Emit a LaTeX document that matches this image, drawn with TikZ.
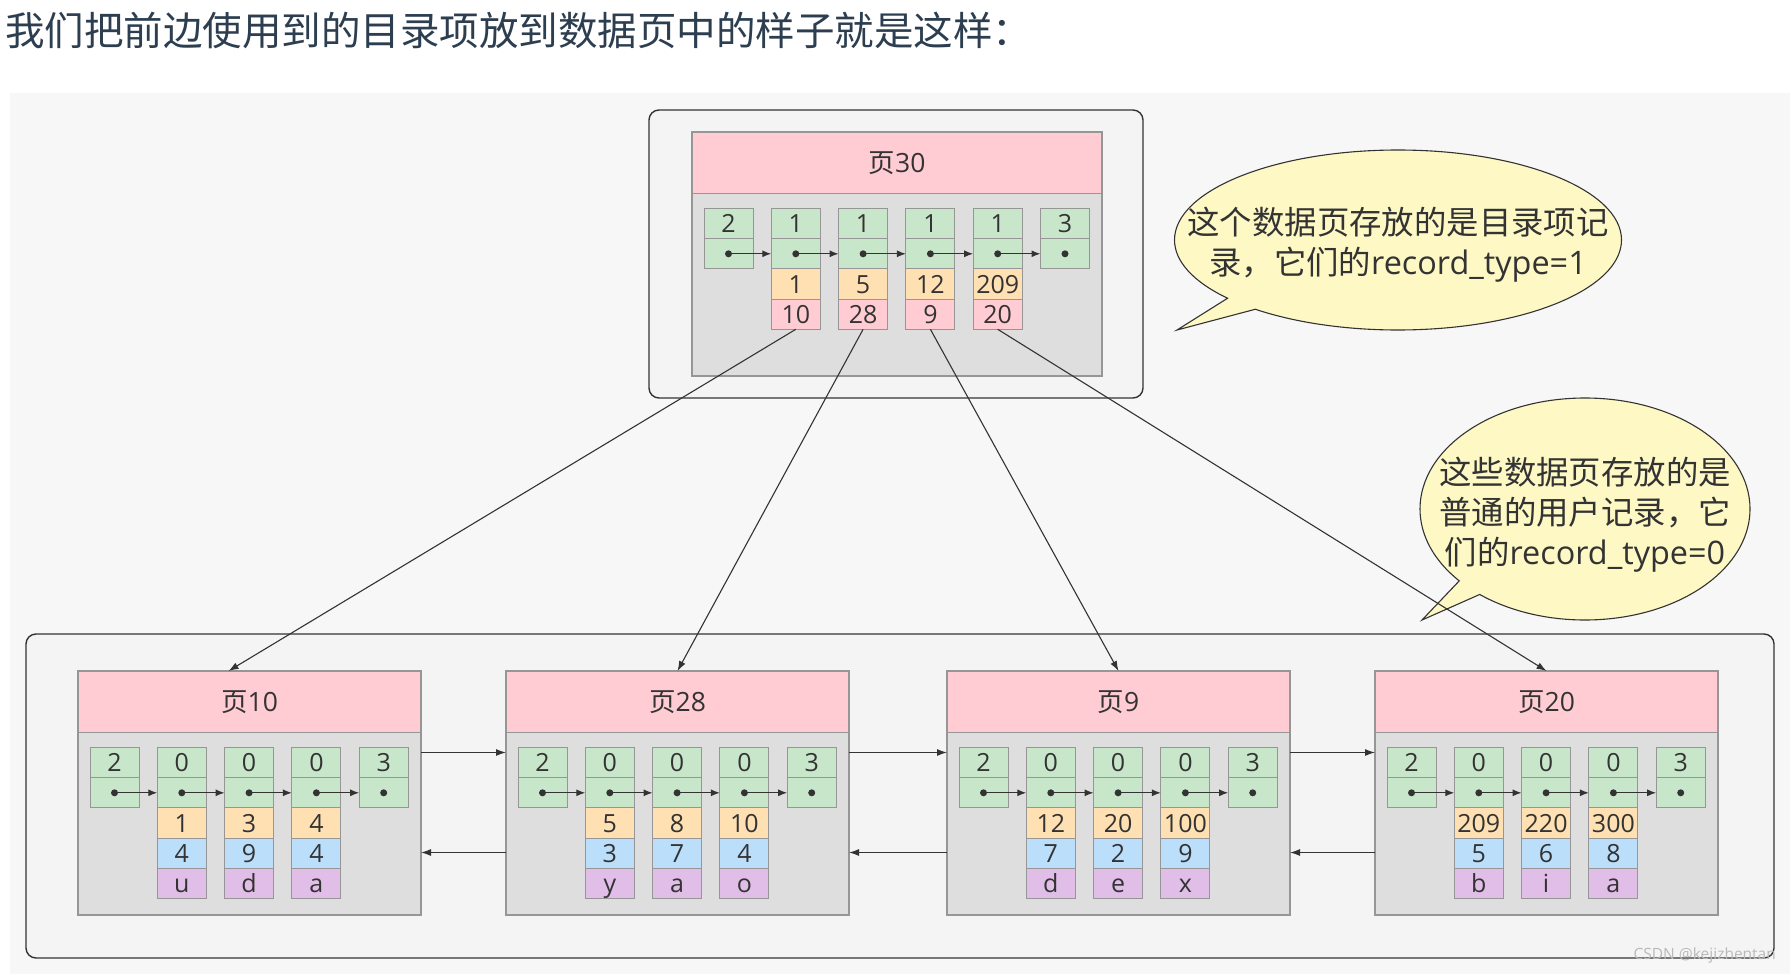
\documentclass[tikz,border=0pt]{standalone}
\usepackage{fontspec}
\setmainfont{Open Sans}
\newfontfamily\cjk{Noto Sans CJK SC}
\usetikzlibrary{arrows.meta,positioning,shapes.callouts}
\definecolor{pagebg}{RGB}{247,247,247}
\definecolor{framefill}{RGB}{244,244,244}
\definecolor{headpink}{RGB}{255,204,211}
\definecolor{bodygray}{RGB}{222,222,222}
\definecolor{slotgreen}{RGB}{200,230,201}
\definecolor{keyorange}{RGB}{255,224,178}
\definecolor{colblue}{RGB}{187,222,251}
\definecolor{colpurple}{RGB}{225,190,231}
\definecolor{notefill}{RGB}{253,248,196}
\definecolor{ink}{RGB}{51,51,51}
\definecolor{titleink}{RGB}{44,62,80}
\definecolor{slotline}{RGB}{150,150,150}

\tikzset{
  outerframe/.style={draw=ink, line width=1.4pt, fill=framefill, rounded corners=10pt},
  pagehead/.style={draw=slotline, line width=1.2pt, fill=headpink, minimum height=61.5, inner sep=0, outer sep=0, text=ink, font=\fontsize{26.5}{26.5}\selectfont},
  pagebody/.style={draw=slotline, line width=1.2pt, fill=bodygray, minimum height=182.5, inner sep=0, outer sep=0},
  slot/.style={draw=slotline, line width=1pt, fill=slotgreen, minimum width=49, minimum height=30.2, inner sep=0, outer sep=0, text=ink, font=\fontsize{25}{25}\selectfont, text height=18pt, text depth=0pt},
  nextptr/.style={draw=ink, line width=1.2pt, -{Latex[length=9pt,width=7pt]}},
  pagelink/.style={draw=ink, line width=1.2pt, -{Latex[length=10pt,width=7pt]}},
  downlink/.style={draw=ink, line width=1.1pt, -{Latex[length=10pt,width=7pt]}},
  note/.style={ellipse callout, draw=ink, line width=1.1pt, fill=notefill, inner sep=0, callout pointer arc=10},
  notetext/.style={text=ink, align=center, inner sep=0, font=\fontsize{32.4}{40}\selectfont},
}

% green slots (record type + next pointer) of one page
\newcommand{\typeslots}[2]{%
  \foreach \rtype [count=\i] in {#2} {
    \node[slot, anchor=north west] (#1-t\i) at ([xshift={12pt+(\i-1)*67.3pt}, yshift=-15pt]#1-body.north west) {\rtype};
    \node[slot, below=0pt of #1-t\i] (#1-n\i) {};
    \fill[ink] (#1-n\i.center) circle (3.5pt);
    \ifnum\i>1
      \pgfmathtruncatemacro\prevslot{\i-1}
      \draw[nextptr] (#1-n\prevslot.center) -- (#1-n\i.west);
    \fi
  }
}
% directory records: min key / page number
\newcommand{\dirslots}[2]{%
  \foreach \minkey/\childno [count=\i from 2] in {#2} {
    \node[slot, fill=keyorange, below=0pt of #1-n\i] (#1-k\i) {\minkey};
    \node[slot, fill=headpink, below=0pt of #1-k\i] (#1-p\i) {\childno};
  }
}
% user records: key / column / column
\newcommand{\userslots}[2]{%
  \foreach \ukey/\ucol/\uchr [count=\i from 2] in {#2} {
    \node[slot, fill=keyorange, below=0pt of #1-n\i] (#1-k\i) {\ukey};
    \node[slot, fill=colblue, below=0pt of #1-k\i] (#1-c\i) {\ucol};
    \node[slot, fill=colpurple, below=0pt of #1-c\i] (#1-d\i) {\uchr};
  }
}

\begin{document}
\begin{tikzpicture}[x=1pt, y=-1pt]
\useasboundingbox (0,0) rectangle (1790,974);
\fill[white] (0,0) rectangle (1790,974);
\fill[pagebg] (10,93) rectangle (1790,974);

\node[anchor=base west, inner sep=0, text=titleink, font=\cjk\fontsize{39.5}{39.5}\selectfont] (title) at (5,46) {我们把前边使用到的目录项放到数据页中的样子就是这样：};

% frames
\draw[outerframe] (649,110) rectangle (1143,398);
\draw[outerframe] (26,634) rectangle (1774,958);

% directory page
\node[pagehead, minimum width=410, anchor=north west] (p30) at (692,132) {{\cjk 页}30};
\node[pagebody, minimum width=410, below=0pt of p30] (p30-body) {};
\typeslots{p30}{2,1,1,1,1,3}
\dirslots{p30}{1/10,5/28,12/9,209/20}

% user pages
\node[pagehead, minimum width=343, anchor=north west] (p10) at (78,671) {{\cjk 页}10};
\node[pagebody, minimum width=343, below=0pt of p10] (p10-body) {};
\typeslots{p10}{2,0,0,0,3}
\userslots{p10}{1/4/u,3/9/d,4/4/a}

\node[pagehead, minimum width=343, anchor=north west] (p28) at (506,671) {{\cjk 页}28};
\node[pagebody, minimum width=343, below=0pt of p28] (p28-body) {};
\typeslots{p28}{2,0,0,0,3}
\userslots{p28}{5/3/y,8/7/a,10/4/o}

\node[pagehead, minimum width=343, anchor=north west] (p9) at (947,671) {{\cjk 页}9};
\node[pagebody, minimum width=343, below=0pt of p9] (p9-body) {};
\typeslots{p9}{2,0,0,0,3}
\userslots{p9}{12/7/d,20/2/e,100/9/x}

\node[pagehead, minimum width=343, anchor=north west] (p20) at (1375,671) {{\cjk 页}20};
\node[pagebody, minimum width=343, below=0pt of p20] (p20-body) {};
\typeslots{p20}{2,0,0,0,3}
\userslots{p20}{209/5/b,220/6/i,300/8/a}

% notes
\node[note, minimum width=447, minimum height=180, callout absolute pointer={(1177,330)}] (note-dir) at (1398,240) {};
\node[notetext] (note-dir-text) at ([yshift=-5pt]note-dir.center) {{\cjk 这个数据页存放的是目录项记}\\{\cjk 录，它们的}record\_type=1};
\node[note, minimum width=330, minimum height=222, callout absolute pointer={(1422,620)}] (note-user) at (1585,509) {};
\node[notetext] (note-user-text) at ([yshift=-6pt]note-user.center) {{\cjk 这些数据页存放的是}\\{\cjk 普通的用户记录，它}\\{\cjk 们的}record\_type=0};

% doubly linked pages
\draw[pagelink] ([yshift=-20pt]p10-body.north east) -- ([yshift=-20pt]p28-body.north west);
\draw[pagelink] ([yshift=-120pt]p28-body.north west) -- ([yshift=-120pt]p10-body.north east);
\draw[pagelink] ([yshift=-20pt]p28-body.north east) -- ([yshift=-20pt]p9-body.north west);
\draw[pagelink] ([yshift=-120pt]p9-body.north west) -- ([yshift=-120pt]p28-body.north east);
\draw[pagelink] ([yshift=-20pt]p9-body.north east) -- ([yshift=-20pt]p20-body.north west);
\draw[pagelink] ([yshift=-120pt]p20-body.north west) -- ([yshift=-120pt]p9-body.north east);

% directory entries point to their pages
\draw[downlink] (p30-p2.south) -- ([xshift=-21pt]p10.north);
\draw[downlink] (p30-p3.south) -- (p28.north);
\draw[downlink] (p30-p4.south) -- (p9.north);
\draw[downlink] (p30-p5.south) -- (p20.north);

\node[anchor=east, inner sep=0, text=gray!55, font=\fontsize{15.5}{15.5}\selectfont] (mark) at (1776,955) {CSDN @kejizhentan};
\end{tikzpicture}
\end{document}
